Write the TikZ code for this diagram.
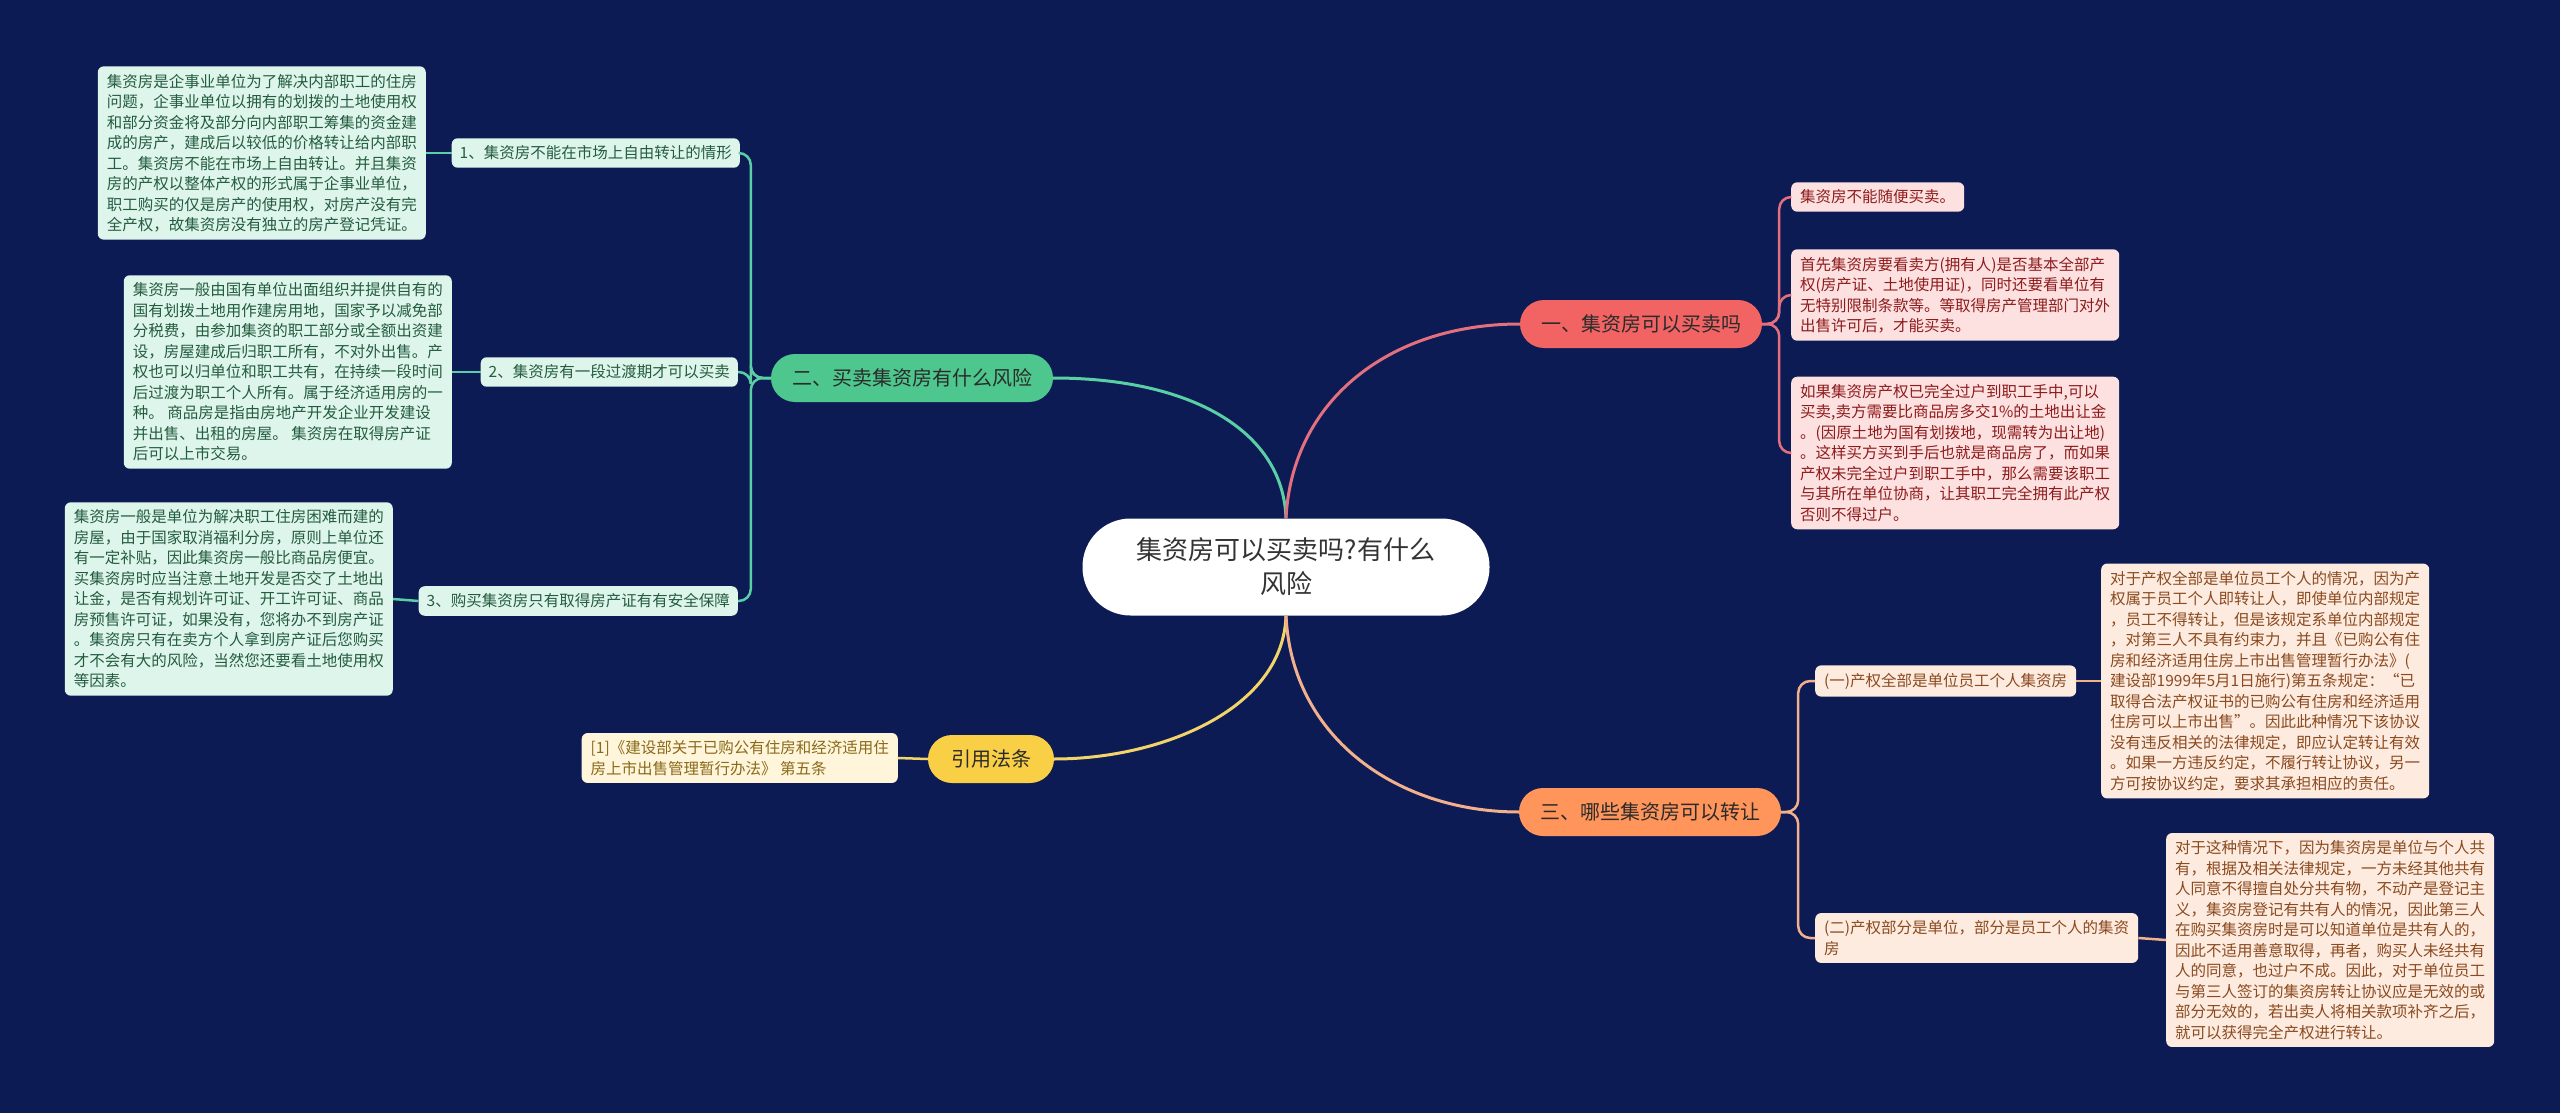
\documentclass[tikz,border=0pt]{standalone}
\usepackage{fontspec}
\setmainfont{Noto Sans CJK SC}
\usetikzlibrary{positioning}
\definecolor{NavyBackground}{HTML}{0C1B54}
\definecolor{RootText}{HTML}{333333}
\definecolor{TopicText}{HTML}{2B2B2B}
\definecolor{RedMain}{HTML}{F26464}
\definecolor{RedLine}{HTML}{E3707E}
\definecolor{RedLeaf}{HTML}{FDE1E1}
\definecolor{RedText}{HTML}{8E1B1B}
\definecolor{GreenMain}{HTML}{4DC78D}
\definecolor{GreenLine}{HTML}{5ACFA5}
\definecolor{GreenLeaf}{HTML}{DEF5EC}
\definecolor{GreenText}{HTML}{245C3E}
\definecolor{YellowMain}{HTML}{F9CF46}
\definecolor{YellowLine}{HTML}{F3D46B}
\definecolor{YellowLeaf}{HTML}{FFF5DA}
\definecolor{YellowText}{HTML}{8A6A1A}
\definecolor{OrangeMain}{HTML}{FF955A}
\definecolor{OrangeLine}{HTML}{F2B08C}
\definecolor{OrangeLeaf}{HTML}{FDEBDF}
\definecolor{OrangeText}{HTML}{8B4A1F}

\begin{document}
\begin{tikzpicture}[
    x=1pt, y=-1pt,
    root/.style = {rectangle, fill=white, text=RootText, rounded corners=48pt, minimum width=407pt, minimum height=97pt, align=center, font=\fontsize{26}{34}\selectfont},
    topic/.style = {rectangle, rounded corners=24pt, minimum height=48pt, inner xsep=21pt, text=TopicText, font=\fontsize{20}{24}\selectfont},
    leaf/.style = {rectangle, rounded corners=6pt, inner xsep=9pt, inner ysep=7.5pt, align=left, font=\fontsize{15.5}{20.5}\selectfont},
    redleaf/.style = {leaf, fill=RedLeaf, text=RedText, anchor=west},
    greenleaf/.style = {leaf, fill=GreenLeaf, text=GreenText, anchor=east},
    yellowleaf/.style = {leaf, fill=YellowLeaf, text=YellowText, anchor=east},
    orangeleaf/.style = {leaf, fill=OrangeLeaf, text=OrangeText, anchor=west},
    mainlink/.style = {draw, line width=3pt},
    sublink/.style = {draw, line width=2.5pt, rounded corners=12pt}
  ]
  \fill[NavyBackground] (0,0) rectangle (2560,1113);
  \useasboundingbox (0,0) rectangle (2560,1113);

  \node [root] (root) at (1286,567) {集资房可以买卖吗?有什么\\风险};

  % main topics
  \node [topic, fill=RedMain] (sell) at (1641,324) {一、集资房可以买卖吗};
  \node [topic, fill=GreenMain] (risk) at (912,378) {二、买卖集资房有什么风险};
  \node [topic, fill=YellowMain, inner xsep=23pt] (law) at (991,759) {引用法条};
  \node [topic, fill=OrangeMain] (transfer) at (1650,812) {三、哪些集资房可以转让};

  % topic 一
  \node [redleaf] (sellA) at (1791,197) {集资房不能随便买卖。};
  \node [redleaf] (sellB) at (1791,295) {首先集资房要看卖方(拥有人)是否基本全部产\\权(房产证、土地使用证)，同时还要看单位有\\无特别限制条款等。等取得房产管理部门对外\\出售许可后，才能买卖。};
  \node [redleaf] (sellC) at (1791,453) {如果集资房产权已完全过户到职工手中,可以\\买卖,卖方需要比商品房多交1\%的土地出让金\\。(因原土地为国有划拨地，现需转为出让地)\\。这样买方买到手后也就是商品房了，而如果\\产权未完全过户到职工手中，那么需要该职工\\与其所在单位协商，让其职工完全拥有此产权\\否则不得过户。};

  % topic 二
  \node [greenleaf, inner xsep=8pt] (riskA) at (740,153) {1、集资房不能在市场上自由转让的情形};
  \node [greenleaf, inner xsep=8pt] (riskB) at (738,372) {2、集资房有一段过渡期才可以买卖};
  \node [greenleaf, inner xsep=8pt] (riskC) at (738,601) {3、购买集资房只有取得房产证有有安全保障};
  \node [greenleaf] (riskAtext) at (426,153) {集资房是企事业单位为了解决内部职工的住房\\问题，企事业单位以拥有的划拨的土地使用权\\和部分资金将及部分向内部职工筹集的资金建\\成的房产，建成后以较低的价格转让给内部职\\工。集资房不能在市场上自由转让。并且集资\\房的产权以整体产权的形式属于企事业单位，\\职工购买的仅是房产的使用权，对房产没有完\\全产权，故集资房没有独立的房产登记凭证。};
  \node [greenleaf] (riskBtext) at (452,372) {集资房一般由国有单位出面组织并提供自有的\\国有划拨土地用作建房用地，国家予以减免部\\分税费，由参加集资的职工部分或全额出资建\\设，房屋建成后归职工所有，不对外出售。产\\权也可以归单位和职工共有，在持续一段时间\\后过渡为职工个人所有。属于经济适用房的一\\种。 商品房是指由房地产开发企业开发建设\\并出售、出租的房屋。 集资房在取得房产证\\后可以上市交易。};
  \node [greenleaf] (riskCtext) at (393,599) {集资房一般是单位为解决职工住房困难而建的\\房屋，由于国家取消福利分房，原则上单位还\\有一定补贴，因此集资房一般比商品房便宜。\\买集资房时应当注意土地开发是否交了土地出\\让金，是否有规划许可证、开工许可证、商品\\房预售许可证，如果没有，您将办不到房产证\\。集资房只有在卖方个人拿到房产证后您购买\\才不会有大的风险，当然您还要看土地使用权\\等因素。};

  % 引用法条
  \node [yellowleaf] (lawA) at (898,758) {[1]《建设部关于已购公有住房和经济适用住\\房上市出售管理暂行办法》 第五条};

  % topic 三
  \node [orangeleaf] (transA) at (1815,681) {(一)产权全部是单位员工个人集资房};
  \node [orangeleaf] (transB) at (1815,938) {(二)产权部分是单位，部分是员工个人的集资\\房};
  \node [orangeleaf] (transAtext) at (2101,681) {对于产权全部是单位员工个人的情况，因为产\\权属于员工个人即转让人，即使单位内部规定\\，员工不得转让，但是该规定系单位内部规定\\，对第三人不具有约束力，并且《已购公有住\\房和经济适用住房上市出售管理暂行办法》(\\建设部1999年5月1日施行)第五条规定：“已\\取得合法产权证书的已购公有住房和经济适用\\住房可以上市出售”。因此此种情况下该协议\\没有违反相关的法律规定，即应认定转让有效\\。如果一方违反约定，不履行转让协议，另一\\方可按协议约定，要求其承担相应的责任。};
  \node [orangeleaf] (transBtext) at (2166,940) {对于这种情况下，因为集资房是单位与个人共\\有，根据及相关法律规定，一方未经其他共有\\人同意不得擅自处分共有物，不动产是登记主\\义，集资房登记有共有人的情况，因此第三人\\在购买集资房时是可以知道单位是共有人的，\\因此不适用善意取得，再者，购买人未经共有\\人的同意，也过户不成。因此，对于单位员工\\与第三人签订的集资房转让协议应是无效的或\\部分无效的，若出卖人将相关款项补齐之后，\\就可以获得完全产权进行转让。};

  % links from the root
  \draw [mainlink, GreenLine] (root.north) .. controls (1283,430) and (1190,378) .. (risk.east);
  \draw [mainlink, RedLine] (root.north) .. controls (1292,400) and (1390,324) .. (sell.west);
  \draw [mainlink, YellowLine] (root.south) .. controls (1283,710) and (1160,759) .. (law.east);
  \draw [mainlink, OrangeLine] (root.south) .. controls (1292,740) and (1400,812) .. (transfer.west);

  % links to the leaves
  \draw [sublink, RedLine] (sell.east) -- ++(17,0) |- (sellA.west);
  \draw [sublink, RedLine] (sell.east) -- ++(17,0) |- (sellB.west);
  \draw [sublink, RedLine] (sell.east) -- ++(17,0) |- (sellC.west);
  \draw [sublink, GreenLine] (risk.west) -- ++(-20,0) |- (riskA.east);
  \draw [sublink, GreenLine] (risk.west) -- ++(-20,0) |- (riskB.east);
  \draw [sublink, GreenLine] (risk.west) -- ++(-20,0) |- (riskC.east);
  \draw [sublink, GreenLine] (riskA.west) -- (riskAtext.east);
  \draw [sublink, GreenLine] (riskB.west) -- (riskBtext.east);
  \draw [sublink, GreenLine] (riskC.west) -- (riskCtext.east);
  \draw [sublink, YellowLine] (law.west) -- (lawA.east);
  \draw [sublink, OrangeLine] (transfer.east) -- ++(17,0) |- (transA.west);
  \draw [sublink, OrangeLine] (transfer.east) -- ++(17,0) |- (transB.west);
  \draw [sublink, OrangeLine] (transA.east) -- (transAtext.west);
  \draw [sublink, OrangeLine] (transB.east) -- (transBtext.west);
\end{tikzpicture}
\end{document}
